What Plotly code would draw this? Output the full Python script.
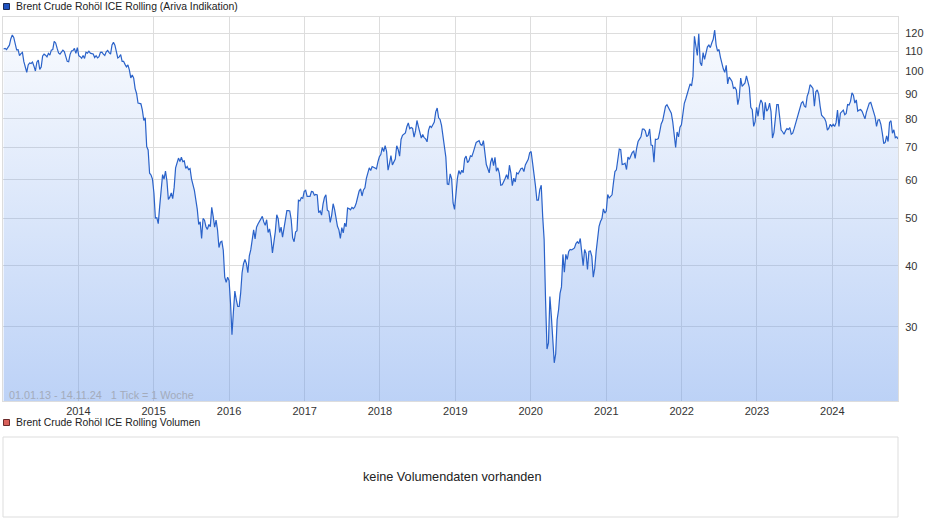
import pandas as pd
import plotly.graph_objects as go

# Weekly closing values (USD)
p2013 = [111.3, 111.6, 111.0, 112.5, 113.3, 116.8, 118.9, 117.5, 114.0, 110.8,
         110.9, 107.8, 108.9, 109.5, 104.8, 102.1, 99.7, 103.2, 104.2, 103.9,
         104.6, 102.6, 100.3, 104.6, 105.6, 101.1, 102.2, 107.7, 108.6, 108.1,
         107.2, 109.0, 108.1, 110.7, 111.0, 115.4, 114.5, 111.7, 109.2, 108.6,
         109.5, 110.7, 109.9, 106.9, 105.0, 104.8, 108.5, 110.2, 110.5, 111.6,
         109.0, 112.0]
p2014 = [107.8, 107.3, 106.5, 107.9, 106.4, 109.6, 109.1, 110.1, 109.1, 108.9,
         108.7, 106.9, 107.8, 106.7, 107.3, 109.5, 109.6, 108.6, 107.9, 109.8,
         110.5, 109.4, 108.6, 113.4, 114.8, 113.3, 110.6, 106.7, 107.2, 108.4,
         105.0, 105.0, 103.5, 102.3, 103.2, 100.8, 97.1, 98.4, 97.0, 92.3,
         90.2, 86.2, 86.1, 85.9, 83.4, 79.4, 80.4, 70.2, 69.1, 61.9,
         61.4, 60.2]
p2015 = [56.4, 50.1, 50.2, 48.8, 53.0, 58.0, 61.5, 60.2, 62.5, 59.7,
         54.7, 55.3, 56.4, 54.9, 57.9, 63.5, 65.3, 66.5, 65.4, 66.8,
         65.4, 65.6, 63.3, 63.9, 63.0, 63.3, 60.3, 58.7, 57.1, 54.6,
         52.2, 48.6, 49.2, 45.5, 50.0, 49.6, 48.1, 47.5, 48.6, 48.1,
         52.7, 50.5, 48.0, 49.6, 47.4, 43.6, 44.7, 44.9, 43.0, 37.9,
         37.0, 37.9]
p2016 = [37.3, 33.6, 28.9, 32.2, 35.5, 34.1, 33.0, 33.0, 35.1, 38.7,
         40.4, 41.2, 40.4, 38.7, 41.9, 43.1, 45.1, 47.4, 45.4, 48.0,
         48.7, 49.3, 49.6, 50.5, 49.2, 48.4, 49.7, 46.8, 47.6, 45.7,
         42.5, 44.3, 47.0, 50.9, 49.9, 46.8, 48.0, 45.8, 47.6, 49.1,
         51.9, 51.9, 51.8, 49.7, 45.6, 44.8, 46.9, 47.2, 54.5, 54.3,
         55.2, 55.0, 56.8]
p2017 = [57.1, 55.5, 55.5, 55.5, 56.8, 56.7, 55.8, 56.0, 55.9, 51.4,
         51.8, 50.8, 53.5, 55.2, 55.9, 52.0, 51.7, 49.1, 50.8, 53.6,
         52.2, 49.9, 48.2, 47.4, 45.5, 47.9, 46.7, 48.9, 48.1, 52.5,
         52.4, 52.1, 52.7, 52.4, 52.8, 53.8, 55.6, 56.9, 57.5, 55.6,
         57.2, 57.8, 60.4, 62.1, 63.5, 62.7, 63.9, 63.7, 63.4, 63.2,
         65.3, 66.9]
p2018 = [67.6, 69.9, 68.6, 70.5, 68.6, 62.8, 64.8, 67.3, 64.4, 65.5,
         66.2, 70.5, 69.3, 67.1, 72.6, 74.0, 74.6, 74.9, 77.1, 78.5,
         76.4, 76.8, 76.5, 73.4, 75.6, 79.4, 77.1, 75.3, 73.1, 74.3,
         73.2, 72.8, 71.8, 75.8, 77.4, 76.8, 78.1, 78.8, 82.7, 84.2,
         80.4, 79.8, 77.6, 72.8, 70.2, 66.8, 58.8, 58.7, 61.7, 60.3,
         53.8, 52.2]
p2019 = [57.1, 60.5, 62.7, 61.6, 62.8, 62.1, 66.3, 67.1, 65.1, 65.7,
         67.2, 67.0, 68.4, 70.3, 71.6, 71.9, 72.2, 70.9, 70.6, 72.2,
         68.7, 64.5, 63.3, 62.0, 65.2, 66.6, 64.2, 66.7, 62.5, 63.5,
         61.9, 58.5, 58.6, 59.3, 60.4, 61.5, 60.2, 64.3, 61.9, 58.4,
         60.5, 59.4, 62.0, 61.7, 62.5, 63.3, 63.4, 62.4, 64.4, 65.2,
         66.1, 68.2]
p2020 = [68.6, 65.0, 62.2, 58.3, 54.5, 54.5, 57.3, 58.5, 50.5, 45.3,
         33.9, 27.0, 27.8, 34.6, 31.5, 28.1, 25.3, 26.4, 31.0, 32.5,
         35.1, 36.2, 42.2, 38.8, 42.2, 41.2, 42.8, 43.2, 43.1, 43.3,
         43.5, 44.4, 44.8, 44.4, 45.5, 42.7, 40.0, 43.2, 42.4, 39.3,
         42.8, 42.9, 41.8, 37.9, 39.5, 42.8, 44.9, 48.2, 49.3, 50.0,
         52.3, 51.3]
p2021 = [51.8, 56.0, 55.1, 55.4, 55.9, 59.3, 62.4, 62.9, 66.1, 69.4,
         69.2, 64.5, 64.6, 64.9, 63.0, 66.8, 66.1, 67.3, 68.3, 68.7,
         66.4, 69.6, 71.9, 72.7, 73.5, 76.2, 76.2, 75.6, 73.6, 74.1,
         76.3, 70.7, 70.6, 65.2, 72.7, 72.6, 72.9, 75.3, 78.1, 79.3,
         82.4, 84.9, 85.5, 84.4, 82.7, 82.2, 78.9, 72.7, 69.9, 75.2,
         73.5, 76.9, 77.8]
p2022 = [81.8, 86.1, 87.9, 90.0, 93.3, 94.4, 93.5, 97.9, 118.1, 112.7,
         107.9, 119.5, 104.4, 102.8, 109.4, 106.0, 109.3, 112.4, 113.4, 112.0,
         114.5, 116.5, 121.7, 113.5, 110.2, 111.0, 107.0, 103.9, 101.2, 99.7,
         103.0, 94.4, 97.5, 96.5, 95.5, 92.4, 92.8, 91.7, 85.6, 88.5,
         97.0, 93.3, 94.0, 94.8, 98.0, 95.0, 92.7, 84.5, 83.6, 77.2,
         79.0, 84.5]
p2023 = [81.0, 85.3, 87.5, 86.2, 79.6, 86.5, 83.0, 83.8, 86.2, 82.8,
         73.1, 75.0, 81.0, 85.6, 85.6, 80.2, 75.9, 75.3, 74.4, 75.6,
         76.4, 76.1, 76.8, 74.4, 74.8, 76.4, 78.5, 80.3, 82.0, 84.5,
         86.2, 86.8, 85.1, 84.5, 89.0, 90.7, 94.0, 93.3, 92.4, 84.9,
         90.9, 91.7, 89.8, 84.9, 81.4, 80.8, 80.2, 78.9, 75.9, 76.6,
         78.0, 77.2]
p2024 = [78.0, 77.2, 78.6, 83.4, 77.2, 82.2, 82.9, 83.4, 81.6, 82.1,
         85.6, 85.4, 86.9, 90.5, 89.5, 86.2, 87.5, 83.0, 83.4, 83.6,
         82.9, 81.6, 80.0, 82.6, 84.3, 86.2, 86.5, 84.5, 82.6, 80.8,
         77.2, 79.6, 79.7, 78.0, 74.8, 71.2, 71.6, 73.8, 71.9, 78.7,
         79.3, 74.8, 76.0, 73.2, 73.5, 72.8]

y_ticks = [30, 40, 50, 60, 70, 80, 90, 100, 110, 120]

title_main = "Brent Crude Rohöl ICE Rolling (Ariva Indikation)"
title_vol = "Brent Crude Rohöl ICE Rolling Volumen"
period_text = "01.01.13 - 14.11.24   1 Tick = 1 Woche"
no_vol_text = "keine Volumendaten vorhanden"

values = (p2013 + p2014 + p2015 + p2016 + p2017 + p2018 + p2019 + p2020
          + p2021 + p2022 + p2023 + p2024)
dates = list(pd.date_range("2013-01-04", periods=len(values), freq="7D"))
dates[-1] = pd.Timestamp("2024-11-14")

W, H = 940, 526
L, R, T, B = 3, 898, 17, 401


def xp(px):
    return (px - L) / (R - L)


def yp(py):
    return (B - py) / (B - T)


ylo, yhi = 1.3248, 2.1120
FONT = "Liberation Sans, Arial, sans-serif"

fig = go.Figure()
fig.add_trace(go.Scatter(
    x=dates, y=values, mode="lines",
    line=dict(color="#2a62c9", width=1.2),
    fill="tozeroy",
    fillgradient=dict(
        type="vertical",
        colorscale=[[0, "rgba(100,150,235,0.43)"], [1, "rgba(100,150,235,0.03)"]],
        start=10 ** ylo, stop=10 ** yhi),
    hoverinfo="skip", showlegend=False))

shapes = [
    dict(type="rect", xref="paper", yref="paper",
         x0=xp(3.5), x1=xp(9.5), y0=yp(3.5), y1=yp(9.5),
         fillcolor="#1f52c0", line=dict(color="#1a2a55", width=1)),
    dict(type="rect", xref="paper", yref="paper",
         x0=xp(3.5), x1=xp(9.5), y0=yp(419.5), y1=yp(425.5),
         fillcolor="#d9605a", line=dict(color="#6a2a2a", width=1)),
    dict(type="rect", xref="paper", yref="paper",
         x0=0, x1=1, y0=yp(437), y1=yp(517),
         fillcolor="rgba(0,0,0,0)", line=dict(color="#dddddd", width=1)),
]

annotations = [
    dict(text=title_main, xref="paper", yref="paper", x=xp(14), y=yp(6.5),
         xanchor="left", yanchor="middle", showarrow=False,
         font=dict(family=FONT, size=10.4, color="#222222")),
    dict(text=title_vol, xref="paper", yref="paper", x=xp(14), y=yp(422.5),
         xanchor="left", yanchor="middle", showarrow=False,
         font=dict(family=FONT, size=10.4, color="#222222")),
    dict(text=period_text, xref="paper", yref="paper", x=xp(7), y=yp(395),
         xanchor="left", yanchor="middle", showarrow=False,
         font=dict(family=FONT, size=10.8, color="#a3abbb")),
    dict(text=no_vol_text, xref="paper", yref="paper", x=xp(452), y=yp(477),
         xanchor="center", yanchor="middle", showarrow=False,
         font=dict(family=FONT, size=12.7, color="#222222")),
]

fig.update_layout(
    width=W, height=H,
    margin=dict(l=L, r=W - R, t=T, b=H - B, pad=0),
    paper_bgcolor="white", plot_bgcolor="white",
    font=dict(family=FONT, size=11, color="#333333"),
    shapes=shapes, annotations=annotations,
    xaxis=dict(
        type="date", range=["2013-01-01", "2024-11-14"],
        tick0="2014-01-01", dtick="M12", tickformat="%Y",
        showgrid=True, gridcolor="#dddddd", gridwidth=1,
        showline=True, mirror=True, linecolor="#dddddd", linewidth=1,
        ticks="", zeroline=False, fixedrange=True,
        tickfont=dict(family=FONT, size=11, color="#333333")),
    yaxis=dict(
        type="log", range=[ylo, yhi], side="right",
        tickvals=y_ticks, ticktext=[str(v) for v in y_ticks],
        showgrid=True, gridcolor="#dddddd", gridwidth=1,
        showline=True, mirror=True, linecolor="#dddddd", linewidth=1,
        ticks="", ticklabelstandoff=4, zeroline=False, fixedrange=True,
        tickfont=dict(family=FONT, size=11, color="#333333")),
)

fig.write_html(
    "out.html",
    config={"displayModeBar": False},
    post_script="document.body.style.margin='0';document.body.style.padding='0';",
)
